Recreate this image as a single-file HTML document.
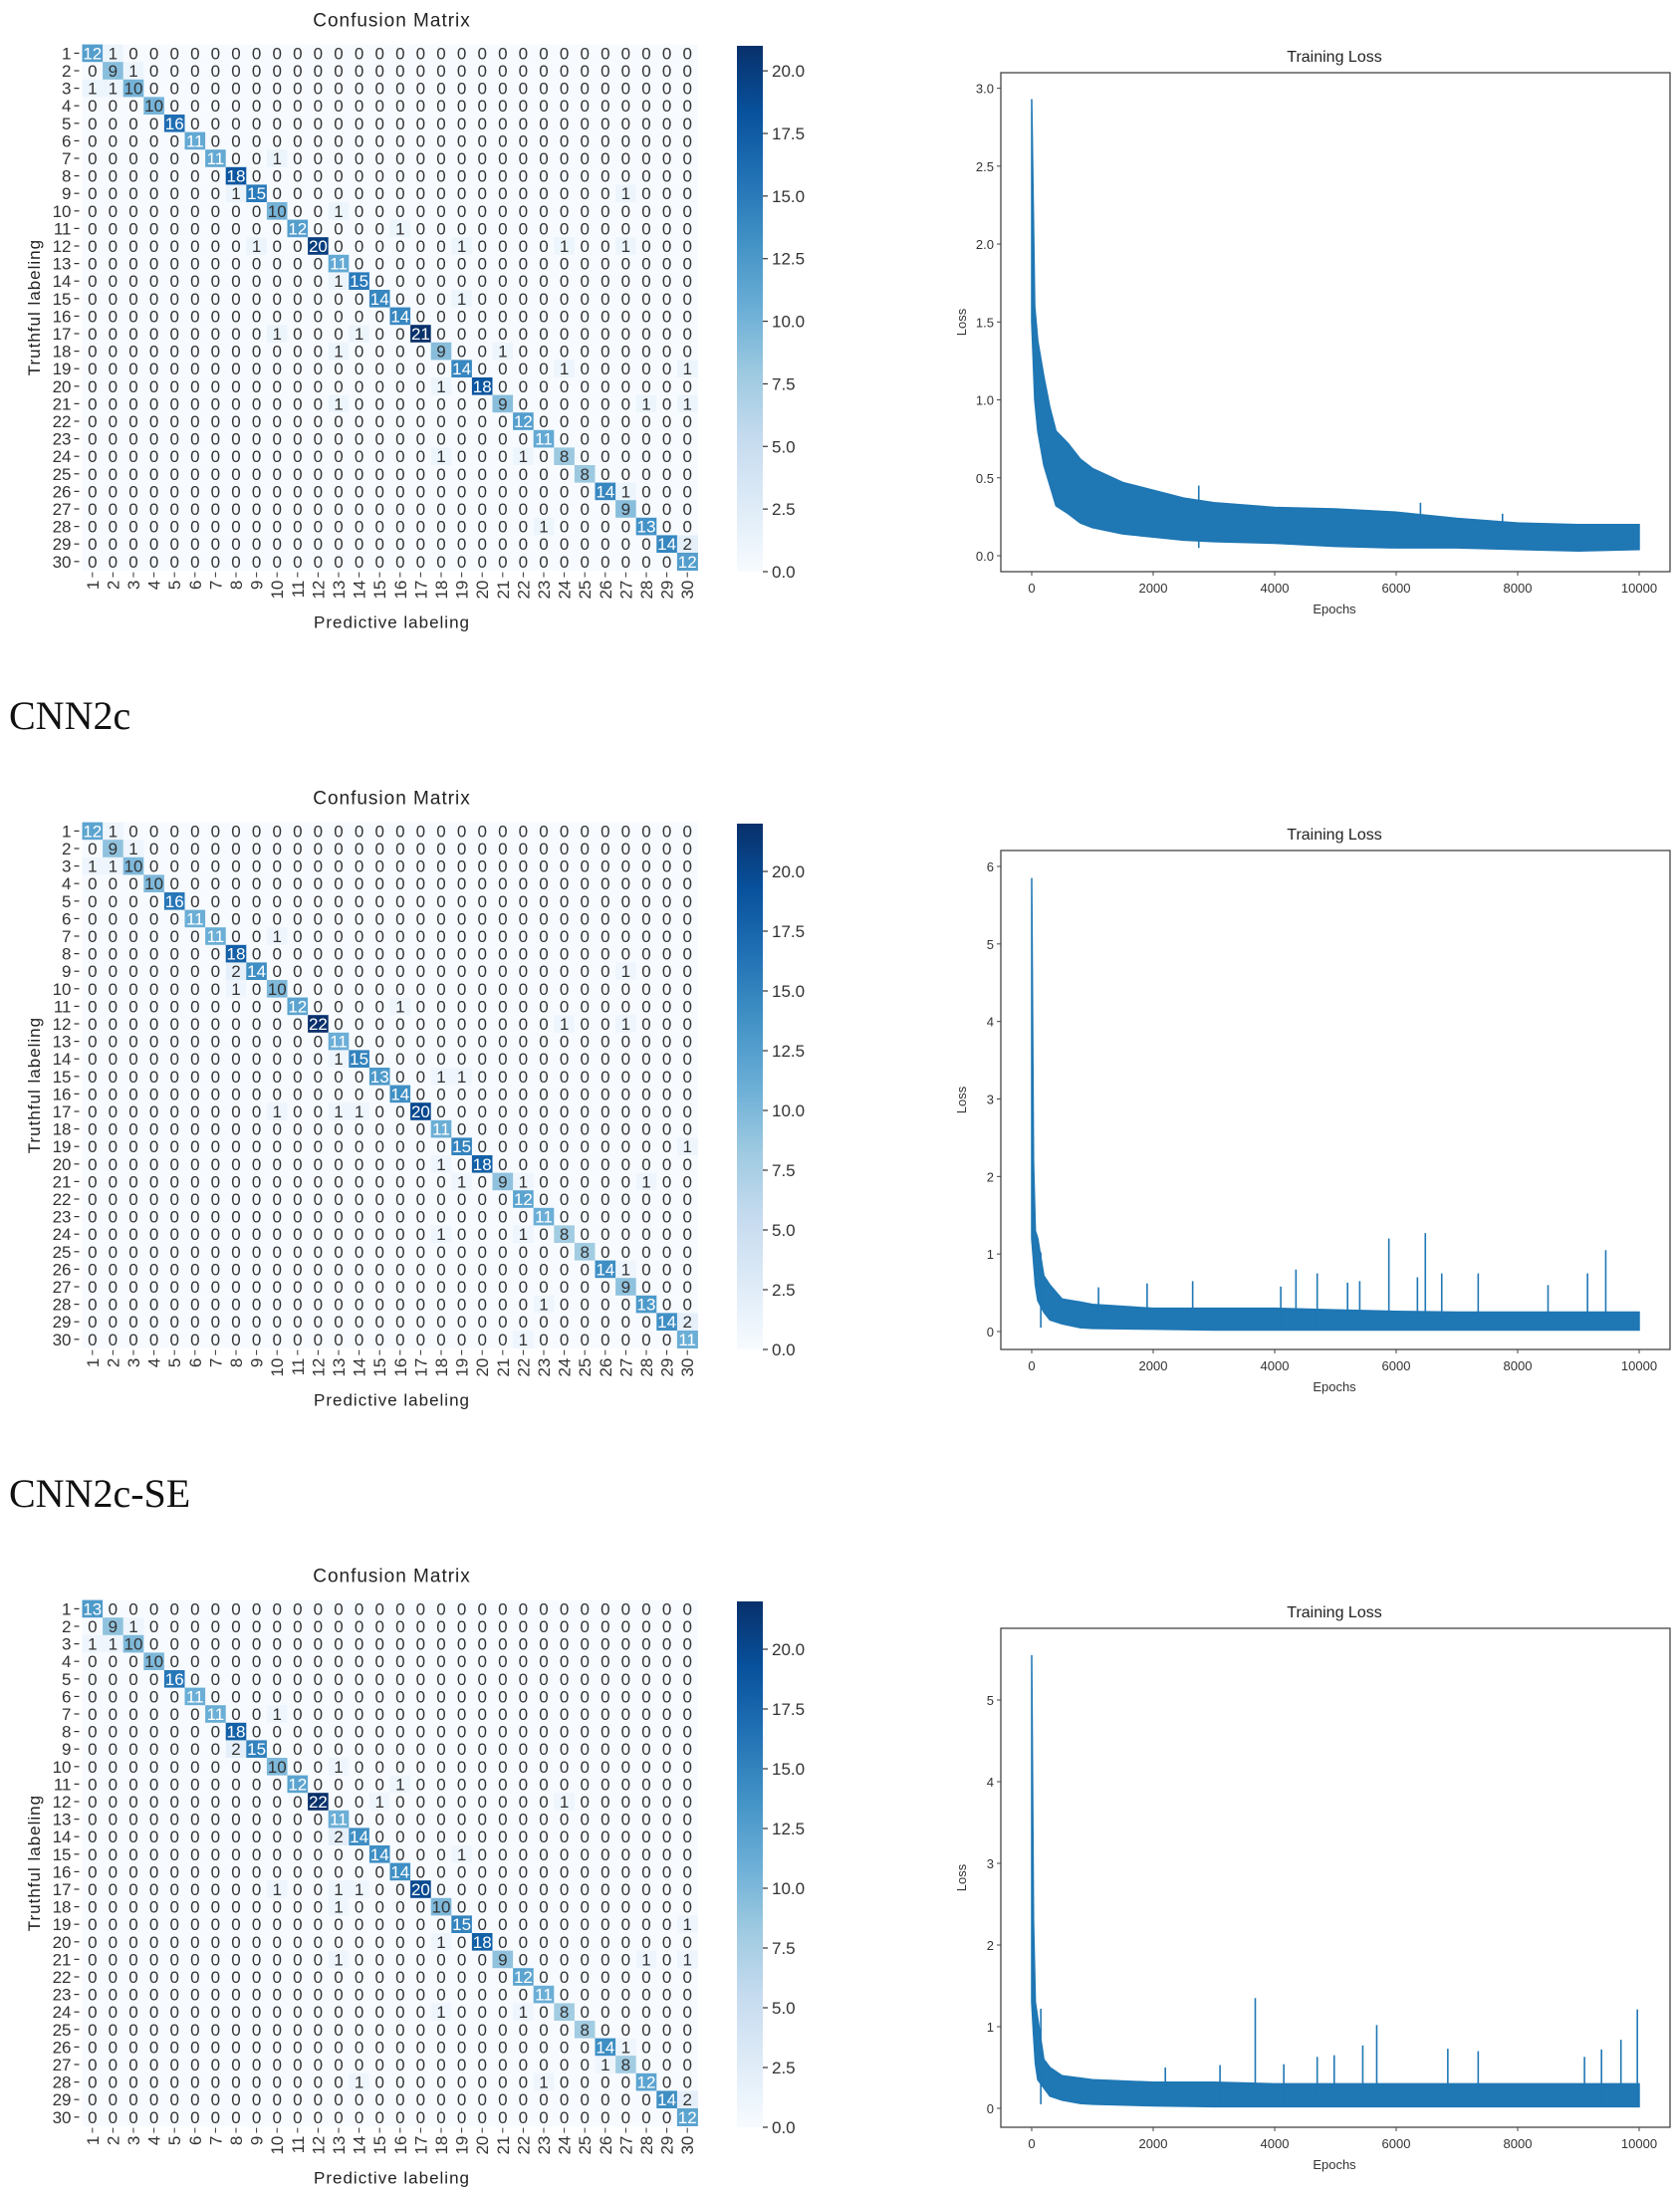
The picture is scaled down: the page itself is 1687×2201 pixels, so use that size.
<!DOCTYPE html>
<html><head><meta charset="utf-8"><style>
html,body{margin:0;padding:0;background:#fff;}
svg{display:block;}
text{font-family:"Liberation Sans","DejaVu Sans",sans-serif;}
</style></head><body>
<svg id="root" width="1687" height="2201" viewBox="0 0 1687 2201" xmlns="http://www.w3.org/2000/svg">
<rect width="1687" height="2201" fill="#fff"/>
<text x="9" y="732" font-family="Liberation Serif, serif" style="font-family:'Liberation Serif',serif" font-size="40" fill="#111">CNN2c</text>
<text x="9" y="1513" style="font-family:'Liberation Serif',serif" font-size="40" fill="#111">CNN2c-SE</text>
</svg>
<script>
// ---- Confusion matrix data (1-based row=truth, col=predicted) ----
const classLabels = Array.from({length:30},(_, i)=>String(i+1));
const diag1 = [12,9,10,10,16,11,11,18,15,10,12,20,11,15,14,14,21,9,14,18,9,12,11,8,8,14,9,13,14,12];
const off1 = [[1,2,1],[2,3,1],[3,1,1],[3,2,1],[7,10,1],[9,8,1],[9,27,1],[10,13,1],[11,16,1],[12,9,1],[12,19,1],[12,24,1],[12,27,1],[14,13,1],[15,19,1],[17,10,1],[17,14,1],[18,13,1],[18,21,1],[19,24,1],[19,30,1],[20,18,1],[21,13,1],[21,28,1],[21,30,1],[24,18,1],[24,22,1],[26,27,1],[28,23,1],[29,30,2]];
const diag2 = [12,9,10,10,16,11,11,18,14,10,12,22,11,15,13,14,20,11,15,18,9,12,11,8,8,14,9,13,14,11];
const off2 = [[1,2,1],[2,3,1],[3,1,1],[3,2,1],[7,10,1],[9,8,2],[9,27,1],[10,8,1],[11,16,1],[12,24,1],[12,27,1],[14,13,1],[15,18,1],[15,19,1],[17,10,1],[17,13,1],[17,14,1],[19,30,1],[20,18,1],[21,19,1],[21,22,1],[21,28,1],[24,18,1],[24,22,1],[26,27,1],[28,23,1],[29,30,2],[30,22,1]];
const diag3 = [13,9,10,10,16,11,11,18,15,10,12,22,11,14,14,14,20,10,15,18,9,12,11,8,8,14,8,12,14,12];
const off3 = [[2,3,1],[3,1,1],[3,2,1],[7,10,1],[9,8,2],[10,13,1],[11,16,1],[12,15,1],[12,24,1],[14,13,2],[15,19,1],[17,10,1],[17,13,1],[17,14,1],[18,13,1],[19,30,1],[20,18,1],[21,13,1],[21,28,1],[21,30,1],[24,18,1],[24,22,1],[26,27,1],[27,26,1],[28,14,1],[28,23,1],[29,30,2]];
const vmax1 = 21, vmax2 = 22, vmax3 = 22;
const cbarTicks = [0,2.5,5,7.5,10,12.5,15,17.5,20];

// ---- Loss data ----
const lossEpochs1 = [0,50,100,200,300,400,600,800,1000,1500,2000,2500,3000,4000,5000,6000,7000,8000,9000,10000];
const lossHigh1 = [2.93,1.6,1.38,1.15,0.95,0.8,0.72,0.62,0.56,0.47,0.42,0.37,0.34,0.31,0.3,0.28,0.24,0.21,0.2,0.2];
const lossLow1 = [1.5,1.0,0.8,0.58,0.45,0.32,0.27,0.21,0.18,0.14,0.12,0.1,0.09,0.08,0.06,0.05,0.05,0.04,0.03,0.04];
const spikeEpochs1 = [2750,6400,7750];
const spikeVals1 = [0.45,0.34,0.27];
const yTicks1 = [0,0.5,1.0,1.5,2.0,2.5,3.0];

const lossEpochs2 = [0,30,60,100,200,300,500,800,1000,2000,3000,4000,5000,6000,7000,8000,9000,10000];
const lossHigh2 = [5.85,2.2,1.3,1.2,0.72,0.6,0.42,0.38,0.35,0.3,0.3,0.3,0.28,0.26,0.25,0.25,0.25,0.25];
const lossLow2 = [1.2,0.9,0.6,0.4,0.25,0.15,0.1,0.05,0.04,0.03,0.02,0.02,0.02,0.02,0.02,0.02,0.02,0.02];
const spikeEpochs2 = [150,1100,1900,2650,4100,4350,4700,5200,5400,5880,6350,6480,6750,7350,8500,9150,9450];
const spikeVals2 = [1.02,0.57,0.62,0.65,0.58,0.8,0.75,0.63,0.65,1.2,0.7,1.27,0.75,0.75,0.6,0.75,1.05];
const yTicks2 = [0,1,2,3,4,5,6];

const lossEpochs3 = [0,30,60,100,200,300,500,800,1000,2000,3000,4000,5000,6000,7000,8000,9000,10000];
const lossHigh3 = [5.55,2.3,1.3,1.1,0.6,0.5,0.4,0.37,0.35,0.32,0.32,0.3,0.3,0.3,0.3,0.3,0.3,0.3];
const lossLow3 = [1.3,0.9,0.55,0.35,0.25,0.15,0.1,0.06,0.05,0.03,0.02,0.02,0.02,0.02,0.02,0.02,0.02,0.02];
const spikeEpochs3 = [150,2200,3100,3680,4150,4700,4980,5450,5680,6850,7350,9100,9380,9700,9970];
const spikeVals3 = [1.22,0.5,0.53,1.35,0.54,0.63,0.65,0.77,1.02,0.73,0.7,0.63,0.72,0.84,1.21];
const yTicks3 = [0,1,2,3,4,5];
const xTicks = [0,2000,4000,6000,8000,10000];

const NS = "http://www.w3.org/2000/svg";
const root = document.getElementById('root');
function mk(tag, attrs, parent){
  const e = document.createElementNS(NS, tag);
  for (const k in attrs) e.setAttribute(k, attrs[k]);
  (parent||root).appendChild(e);
  return e;
}
const stops = ['#f7fbff','#deebf7','#c6dbef','#9ecae1','#6baed6','#4292c6','#2171b5','#08519c','#08306b'];
function hex(h){return [parseInt(h.substr(1,2),16),parseInt(h.substr(3,2),16),parseInt(h.substr(5,2),16)];}
function blues(t){
  t=Math.max(0,Math.min(1,t));
  const p=t*8, i=Math.min(7,Math.floor(p)), f=p-i;
  const a=hex(stops[i]), b=hex(stops[i+1]);
  const c=a.map((v,k)=>Math.round(v+(b[k]-v)*f));
  return c;
}
function lum(c){const s=c.map(v=>{v/=255;return v<=0.03928?v/12.92:Math.pow((v+0.055)/1.055,2.4);});return 0.2126*s[0]+0.7152*s[1]+0.0722*s[2];}

function drawMatrix(dy, diag, off, vmax, idx){
  const g = mk('g',{});
  
  
  const L=82.5, T=44.6+dy, cw=20.6, ch=17.6, n=30;
  const M=[]; for(let r=0;r<n;r++){M.push(new Array(n).fill(0)); M[r][r]=diag[r];}
  off.forEach(o=>{M[o[0]-1][o[1]-1]=o[2];});
  const xs = c => L + c*cw, ys = r => T + r*ch;
  const title = mk('text',{x:L+cw*15+2,y:T-18,'text-anchor':'middle','font-size':19,fill:'#222','letter-spacing':'1'},g);
  title.textContent='Confusion Matrix';
  
  
  for(let r=0;r<n;r++)for(let c=0;c<n;c++){
    const v=M[r][c], col=blues(v/vmax);
    const rc = mk('rect',{x:xs(c),y:ys(r),width:cw+0.4,height:ch+0.4,fill:'rgb('+col.join(',')+')'},g);
    
    
    const t = mk('text',{x:xs(c)+cw/2,y:ys(r)+ch/2+6,'text-anchor':'middle','font-size':17,fill:lum(col)<0.408?'#fff':'#333'},g);
    t.textContent=v;
    
    
  }
  for(let r=0;r<n;r++){
    const t=mk('text',{x:L-11,y:ys(r)+ch/2+6,'text-anchor':'end','font-size':17,fill:'#333'},g);
    t.textContent=classLabels[r];
    
    
    mk('line',{x1:L-8,x2:L-3,y1:ys(r)+ch/2,y2:ys(r)+ch/2,stroke:'#333','stroke-width':1.2},g);
  }
  const B=T+n*ch;
  for(let c=0;c<n;c++){
    const x=xs(c)+cw/2;
    mk('line',{x1:x,x2:x,y1:B+2,y2:B+7},g);
    g.lastChild.setAttribute('stroke','#333');
    const t=mk('text',{x:0,y:0,'text-anchor':'end','font-size':17,fill:'#333',transform:'translate('+(x+6)+','+(B+10)+') rotate(-90)'},g);
    t.textContent=classLabels[c];
    
    
  }
  const xl=mk('text',{x:L+cw*15+2,y:B+58,'text-anchor':'middle','font-size':17,fill:'#222','letter-spacing':'1'},g);
  xl.textContent='Predictive labeling';
  
  
  const yl=mk('text',{x:0,y:0,'text-anchor':'middle','font-size':17,fill:'#222','letter-spacing':'1',transform:'translate(40,'+(T+n*ch/2)+') rotate(-90)'},g);
  yl.textContent='Truthful labeling';
  
  
  // colorbar
  const cx=740, cwid=26, ct=46+dy, cb=574+dy;
  const defs=mk('defs',{},g);
  const lg=mk('linearGradient',{id:'cg'+idx,x1:0,y1:1,x2:0,y2:0},defs);
  stops.forEach((s,i)=>mk('stop',{offset:(i/8),'stop-color':s},lg));
  const cbr=mk('rect',{x:cx,y:ct,width:cwid,height:cb-ct,fill:'url(#cg'+idx+')'},g);
  
  
  const cy=v=>cb-(v/vmax)*(cb-ct);
  cbarTicks.forEach(v=>{
    mk('line',{x1:cx+cwid,x2:cx+cwid+5,y1:cy(v),y2:cy(v),stroke:'#333','stroke-width':1.2},g);
    const t=mk('text',{x:cx+cwid+9,y:cy(v)+6,'font-size':17,fill:'#333'},g);
    t.textContent=v.toFixed(1);
    
    
  });
}

function drawLoss(dy, y0px, ytopVal, ytopPx, ep, hi, lo, sE, sV, yT, idx){
  const g=mk('g',{});
  
  
  const X0=1005, X1=1677, Y0=73+dy, Y1=574+dy;
  const xs=e=>1036+(e/10000)*(1646-1036);
  const ys=v=>y0px-(v/ytopVal)*(y0px-ytopPx);
  const ti=mk('text',{x:1340,y:Y0-11,'text-anchor':'middle','font-size':16,fill:'#222'},g);
  ti.textContent='Training Loss';
  
  
  let pts=[];
  for(let i=0;i<ep.length;i++)pts.push(xs(ep[i])+','+ys(hi[i]));
  for(let i=ep.length-1;i>=0;i--)pts.push(xs(ep[i])+','+ys(lo[i]));
  const band=mk('polygon',{points:pts.join(' '),fill:'#1f77b4',stroke:'#1f77b4','stroke-width':1.5},g);
  
  
  sE.forEach((e,i)=>{
    const s=mk('line',{x1:xs(e),x2:xs(e),y1:ys(0.05),y2:ys(sV[i]),stroke:'#1f77b4','stroke-width':1.6},g);
    
    
  });
  const fr=mk('rect',{x:X0,y:Y0,width:X1-X0,height:Y1-Y0,fill:'none',stroke:'#444','stroke-width':1.3},g);
  
  
  yT.forEach(v=>{
    mk('line',{x1:X0-4,x2:X0,y1:ys(v),y2:ys(v),stroke:'#444'},g);
    const t=mk('text',{x:X0-7,y:ys(v)+5,'text-anchor':'end','font-size':13,fill:'#333'},g);
    t.textContent=(ytopVal<=3.2)?v.toFixed(1):String(v);
    
    
  });
  xTicks.forEach(v=>{
    mk('line',{x1:xs(v),x2:xs(v),y1:Y1,y2:Y1+4,stroke:'#444'},g);
    const t=mk('text',{x:xs(v),y:Y1+21,'text-anchor':'middle','font-size':13,fill:'#333'},g);
    t.textContent=String(v);
    
    
  });
  const xl=mk('text',{x:1340,y:Y1+42,'text-anchor':'middle','font-size':13,fill:'#333'},g);
  xl.textContent='Epochs';
  
  
  const yl=mk('text',{x:0,y:0,'text-anchor':'middle','font-size':13,fill:'#333',transform:'translate(970,'+((Y0+Y1)/2)+') rotate(-90)'},g);
  yl.textContent='Loss';
  
  
}

drawMatrix(0, diag1, off1, vmax1, 1);
drawMatrix(781, diag2, off2, vmax2, 2);
drawMatrix(1562, diag3, off3, vmax3, 3);
drawLoss(0, 558, 3.0, 88.6, lossEpochs1, lossHigh1, lossLow1, spikeEpochs1, spikeVals1, yTicks1, 1);
drawLoss(781, 1337, 6, 870, lossEpochs2, lossHigh2, lossLow2, spikeEpochs2, spikeVals2, yTicks2, 2);
drawLoss(1562, 2117, 5, 1707, lossEpochs3, lossHigh3, lossLow3, spikeEpochs3, spikeVals3, yTicks3, 3);
</script>
</body></html>
